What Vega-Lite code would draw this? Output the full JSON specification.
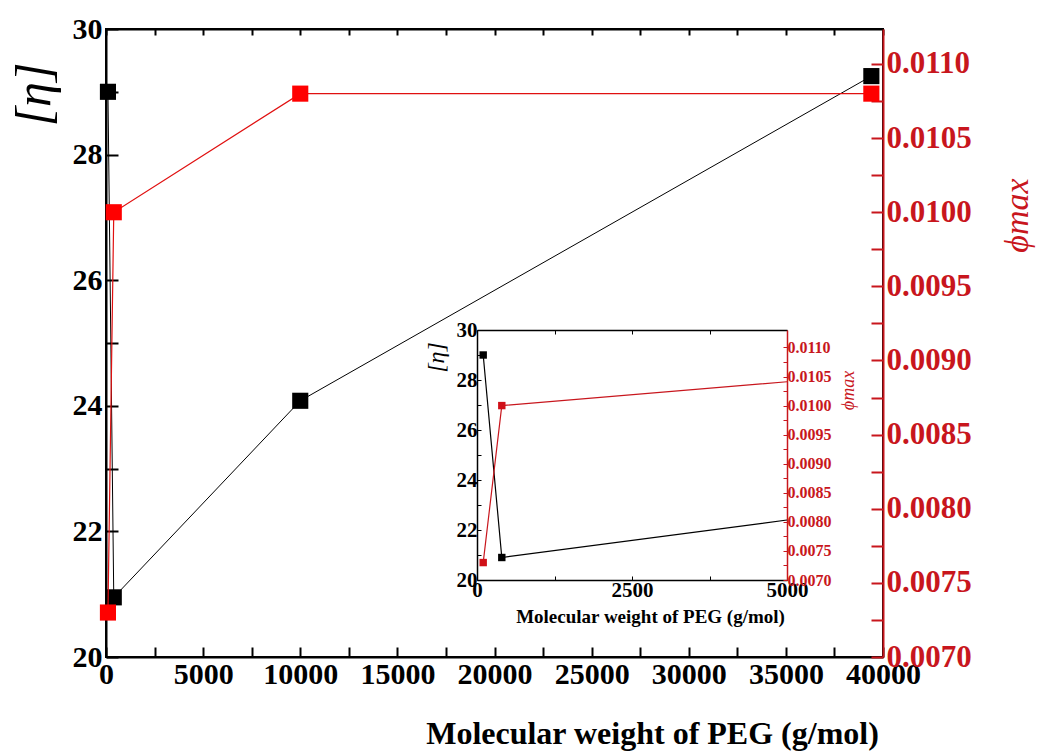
{
  "$schema": "https://vega.github.io/schema/vega-lite/v6.json",
  "width": 777,
  "height": 628,
  "autosize": {"type": "none"},
  "padding": {"left": 106, "top": 29, "right": 156, "bottom": 97},
  "background": "white",
  "config": {
    "view": {"stroke": "black", "strokeWidth": 2},
    "font": "Liberation Serif",
    "axis": {
      "grid": false,
      "labelFont": "Liberation Serif",
      "titleFont": "Liberation Serif",
      "labelFontWeight": "bold",
      "titleFontWeight": "bold",
      "labelColor": "black",
      "titleColor": "black",
      "labelFlush": false,
      "labelOverlap": false
    }
  },
  "datasets": {
    "main": [
      {"mw": 100, "eta": 29.0, "phi": 0.0073},
      {"mw": 400, "eta": 20.95, "phi": 0.0100},
      {"mw": 10000, "eta": 24.08, "phi": 0.0108},
      {"mw": 39400, "eta": 29.25, "phi": 0.0108}
    ],
    "inset": [
      {"mw": 100, "eta": 29.0, "phi": 0.0073, "pt": 1},
      {"mw": 400, "eta": 20.9, "phi": 0.0100, "pt": 1},
      {"mw": 5000, "eta": 22.4, "phi": 0.01041, "pt": 0}
    ]
  },
  "layer": [
    {
      "data": {"name": "main"},
      "encoding": {
        "x": {
          "field": "mw", "type": "quantitative",
          "scale": {"domain": [0, 40000], "nice": false, "zero": false},
          "axis": {
            "orient": "bottom",
            "values": [0, 2500, 5000, 7500, 10000, 12500, 15000, 17500, 20000, 22500, 25000, 27500, 30000, 32500, 35000, 37500, 40000],
            "format": "d",
            "labelExpr": "datum.value % 5000 == 0 ? datum.label : ''",
            "labelFontSize": 30,
            "labelPadding": 12,
            "tickSize": -10,
            "tickWidth": 2,
            "tickColor": "black",
            "domainColor": "black",
            "domainWidth": 2,
            "encode": {"ticks": {"update": {"y2": {"signal": "datum.value % 5000 == 0 ? -12 : -7"}}}},
            "title": "Molecular weight of PEG (g/mol)",
            "titleFontSize": 32,
            "titleX": 546,
            "titleY": 86,
            "titleAlign": "center",
            "titleBaseline": "alphabetic"
          }
        },
        "y": {
          "field": "eta", "type": "quantitative",
          "scale": {"domain": [20, 30], "nice": false, "zero": false},
          "axis": {
            "orient": "left",
            "values": [20, 21, 22, 23, 24, 25, 26, 27, 28, 29, 30],
            "format": "d",
            "labelExpr": "datum.value % 2 == 0 ? datum.label : ''",
            "labelFontSize": 30,
            "labelPadding": 16,
            "tickSize": -12,
            "tickWidth": 2,
            "tickColor": "black",
            "domainColor": "black",
            "domainWidth": 2,
            "encode": {"ticks": {"update": {"x2": {"signal": "datum.value % 2 == 0 ? 12 : -7"}}}},
            "title": "[η]",
            "titleFontSize": 50,
            "titleFontWeight": "normal",
            "titleFontStyle": "italic",
            "titleAngle": 270,
            "titleX": -72,
            "titleY": 65,
            "titleAlign": "center",
            "titleBaseline": "middle"
          }
        }
      },
      "layer": [
        {"mark": {"type": "line", "color": "black", "strokeWidth": 1}},
        {"mark": {"type": "square", "color": "black", "size": 260, "opacity": 1}}
      ]
    },
    {
      "data": {"name": "main"},
      "encoding": {
        "x": {
          "field": "mw", "type": "quantitative",
          "scale": {"domain": [0, 40000], "nice": false, "zero": false},
          "axis": {
            "orient": "top",
            "values": [0, 2500, 5000, 7500, 10000, 12500, 15000, 17500, 20000, 22500, 25000, 27500, 30000, 32500, 35000, 37500, 40000],
            "labels": false,
            "tickSize": -6,
            "tickWidth": 2,
            "tickColor": "black",
            "domainColor": "black",
            "domainWidth": 2,
            "title": null
          }
        },
        "y": {
          "field": "phi", "type": "quantitative",
          "scale": {"domain": [0.007, 0.011236], "nice": false, "zero": false},
          "axis": {
            "orient": "right",
            "values": [0.007, 0.00725, 0.0075, 0.00775, 0.008, 0.00825, 0.0085, 0.00875, 0.009, 0.00925, 0.0095, 0.00975, 0.01, 0.01025, 0.0105, 0.01075, 0.011],
            "format": ".4f",
            "labelExpr": "round(datum.value * 4000) % 2 == 0 ? datum.label : ''",
            "labelFontSize": 31,
            "labelColor": "#c8161d",
            "labelPadding": 15,
            "tickSize": -12,
            "tickWidth": 2,
            "tickColor": "#c8161d",
            "domainColor": "#c8161d",
            "domainWidth": 2,
            "title": "ϕmax",
            "titleColor": "#c8161d",
            "titleFontSize": 34,
            "titleFontWeight": "normal",
            "titleFontStyle": "italic",
            "titleAngle": 270,
            "titleX": 134,
            "titleY": 186,
            "titleAlign": "center",
            "titleBaseline": "middle"
          }
        }
      },
      "layer": [
        {"mark": {"type": "line", "color": "#e01010", "strokeWidth": 1.2}},
        {"mark": {"type": "square", "color": "#ff0000", "size": 260, "opacity": 1}}
      ]
    },
    {
      "data": {"name": "inset"},
      "encoding": {
        "x": {
          "field": "mw", "type": "quantitative",
          "scale": {"domain": [0, 5000], "range": [371, 681], "nice": false, "zero": false},
          "axis": {
            "orient": "bottom",
            "offset": -77,
            "values": [0, 1250, 2500, 3750, 5000],
            "format": "d",
            "labelExpr": "datum.value % 2500 == 0 ? datum.label : ''",
            "labelFontSize": 21,
            "labelPadding": 3,
            "tickSize": -4,
            "tickColor": "black",
            "domainColor": "black",
            "domainWidth": 1.5,
            "title": "Molecular weight of PEG (g/mol)",
            "titleFontSize": 19,
            "titleX": 544,
            "titleY": 36,
            "titleAlign": "center",
            "titleBaseline": "middle"
          }
        },
        "y": {
          "field": "eta", "type": "quantitative",
          "scale": {"domain": [20, 30], "range": [551, 301], "nice": false, "zero": false},
          "axis": {
            "orient": "left",
            "offset": -371,
            "values": [20, 21, 22, 23, 24, 25, 26, 27, 28, 29, 30],
            "format": "d",
            "labelExpr": "datum.value % 2 == 0 ? datum.label : ''",
            "labelFontSize": 21,
            "labelPadding": 4,
            "tickSize": -4,
            "tickColor": "black",
            "domainColor": "black",
            "domainWidth": 1.5,
            "title": "[η]",
            "titleFontSize": 24,
            "titleFontWeight": "normal",
            "titleFontStyle": "italic",
            "titleAngle": 270,
            "titleX": -41,
            "titleY": 328,
            "titleAlign": "center",
            "titleBaseline": "middle"
          }
        }
      },
      "layer": [
        {"mark": {"type": "line", "color": "black", "strokeWidth": 1.2}},
        {"transform": [{"filter": "datum.pt == 1"}], "mark": {"type": "square", "color": "black", "size": 55, "opacity": 1}}
      ]
    },
    {
      "data": {"name": "inset"},
      "encoding": {
        "x": {
          "field": "mw", "type": "quantitative",
          "scale": {"domain": [0, 5000], "range": [371, 681], "nice": false, "zero": false},
          "axis": {
            "orient": "top",
            "offset": -301,
            "values": [0, 1250, 2500, 3750, 5000],
            "labels": false,
            "tickSize": -4,
            "tickColor": "black",
            "domainColor": "black",
            "domainWidth": 1.5,
            "title": null
          }
        },
        "y": {
          "field": "phi", "type": "quantitative",
          "scale": {"domain": [0.007, 0.0113], "range": [551, 301], "nice": false, "zero": false},
          "axis": {
            "orient": "right",
            "offset": -96,
            "values": [0.007, 0.00725, 0.0075, 0.00775, 0.008, 0.00825, 0.0085, 0.00875, 0.009, 0.00925, 0.0095, 0.00975, 0.01, 0.01025, 0.0105, 0.01075, 0.011],
            "format": ".4f",
            "labelExpr": "round(datum.value * 4000) % 2 == 0 ? datum.label : ''",
            "labelFontSize": 16,
            "labelColor": "#c8161d",
            "labelPadding": 4,
            "tickSize": -4,
            "tickColor": "#c8161d",
            "domainColor": "#c8161d",
            "domainWidth": 1.5,
            "title": "ϕmax",
            "titleColor": "#c8161d",
            "titleFontSize": 18,
            "titleFontWeight": "normal",
            "titleFontStyle": "italic",
            "titleAngle": 270,
            "titleX": 61,
            "titleY": 361,
            "titleAlign": "center",
            "titleBaseline": "middle"
          }
        }
      },
      "layer": [
        {"mark": {"type": "line", "color": "#c8161d", "strokeWidth": 1.2}},
        {"transform": [{"filter": "datum.pt == 1"}], "mark": {"type": "square", "color": "#d01018", "size": 55, "opacity": 1}}
      ]
    }
  ],
  "resolve": {"scale": {"x": "independent", "y": "independent"}}
}
